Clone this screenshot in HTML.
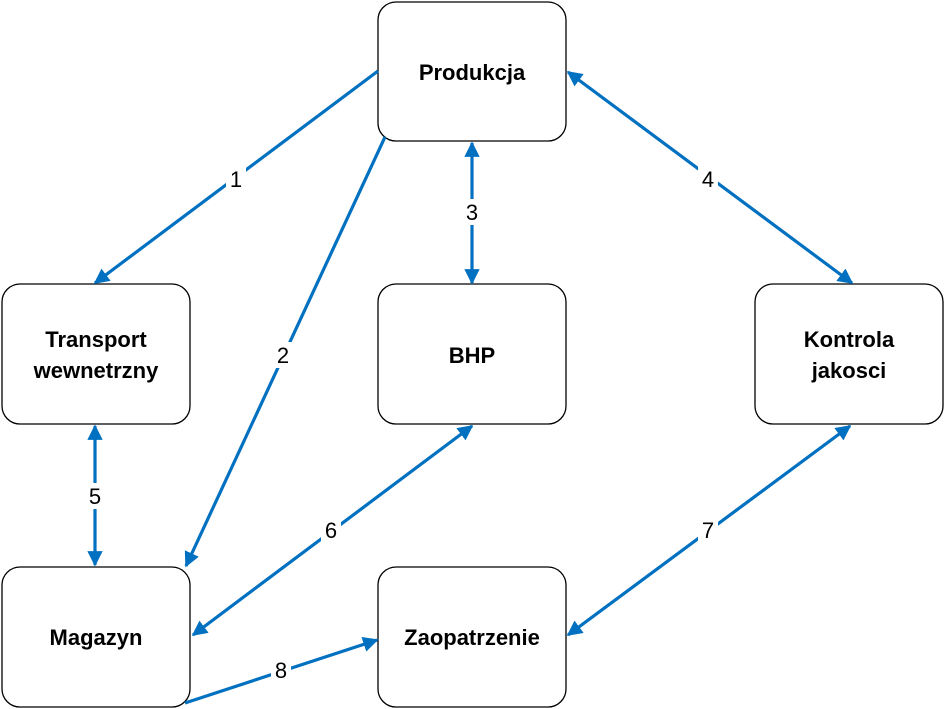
<!DOCTYPE html>
<html><head><meta charset="utf-8"><style>
html,body{margin:0;padding:0;background:#fff;}
svg{display:block;}
.b{fill:#fff;stroke:#000;stroke-width:1.3;}
.t{font-family:"Liberation Sans",Arial,sans-serif;font-weight:bold;font-size:22px;fill:#000;text-anchor:middle;}
.l{stroke:#0070C0;stroke-width:3.2;fill:none;}
.n{font-family:"Liberation Sans",Arial,sans-serif;font-size:22px;fill:#000;text-anchor:middle;}
</style></head><body>
<svg width="945" height="709" viewBox="0 0 945 709" xmlns="http://www.w3.org/2000/svg">
<defs>
<marker id="a" viewBox="0 0 10 10" refX="9" refY="5" markerWidth="4.8" markerHeight="4.8" orient="auto-start-reverse" markerUnits="strokeWidth">
<path d="M0,0 L10,5 L0,10 z" fill="#0070C0"/></marker>
</defs>
<rect class="b" x="378" y="2" width="188" height="139" rx="18"/>
<rect class="b" x="2" y="284" width="188" height="140" rx="18"/>
<rect class="b" x="378" y="284" width="188" height="140" rx="18"/>
<rect class="b" x="755" y="284" width="188" height="140" rx="18"/>
<rect class="b" x="2" y="567" width="188" height="140" rx="18"/>
<rect class="b" x="378" y="567" width="188" height="140" rx="18"/>
<text class="t" x="472" y="80">Produkcja</text>
<text class="t" x="96" y="347">Transport</text>
<text class="t" x="96" y="378">wewnetrzny</text>
<text class="t" x="472" y="363">BHP</text>
<text class="t" x="849" y="347">Kontrola</text>
<text class="t" x="849" y="378">jakosci</text>
<text class="t" x="96" y="645">Magazyn</text>
<text class="t" x="472" y="645">Zaopatrzenie</text>
<line class="l" x1="378" y1="71" x2="95" y2="283" marker-end="url(#a)"/>
<line class="l" x1="385" y1="137" x2="186" y2="566" marker-end="url(#a)"/>
<line class="l" x1="472" y1="143" x2="472" y2="283" marker-start="url(#a)" marker-end="url(#a)"/>
<line class="l" x1="568" y1="72" x2="852" y2="283" marker-start="url(#a)" marker-end="url(#a)"/>
<line class="l" x1="95" y1="426" x2="95" y2="565" marker-start="url(#a)" marker-end="url(#a)"/>
<line class="l" x1="472" y1="426" x2="193" y2="635" marker-start="url(#a)" marker-end="url(#a)"/>
<line class="l" x1="850" y1="426" x2="568" y2="635" marker-start="url(#a)" marker-end="url(#a)"/>
<line class="l" x1="185" y1="703" x2="377" y2="640" marker-end="url(#a)"/>
<g>
<rect x="226" y="166" width="20" height="26" fill="#fff"/><text class="n" x="236" y="187">1</text>
<rect x="273" y="342" width="20" height="26" fill="#fff"/><text class="n" x="283" y="363">2</text>
<rect x="462" y="199" width="20" height="26" fill="#fff"/><text class="n" x="472" y="220">3</text>
<rect x="698" y="166" width="20" height="26" fill="#fff"/><text class="n" x="708" y="187">4</text>
<rect x="85" y="483" width="20" height="26" fill="#fff"/><text class="n" x="95" y="504">5</text>
<rect x="321" y="517" width="20" height="26" fill="#fff"/><text class="n" x="331" y="538">6</text>
<rect x="698" y="517" width="20" height="26" fill="#fff"/><text class="n" x="708" y="538">7</text>
<rect x="271" y="657" width="20" height="26" fill="#fff"/><text class="n" x="281" y="678">8</text>
</g>
</svg>
</body></html>
